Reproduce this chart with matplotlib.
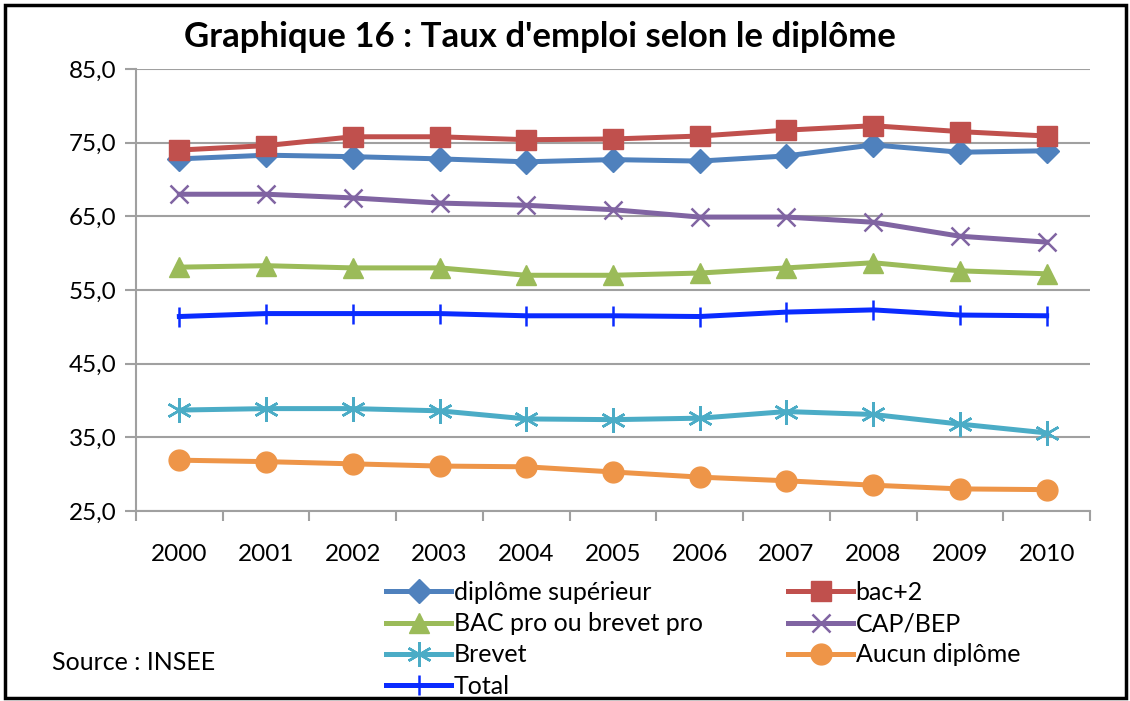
import matplotlib
matplotlib.use('Agg')
import matplotlib.pyplot as plt
from matplotlib.patches import Rectangle

plt.rcParams['font.family'] = ['Lato', 'DejaVu Sans']

years = ['2000', '2001', '2002', '2003', '2004', '2005',
         '2006', '2007', '2008', '2009', '2010']

diplome_sup = [72.8, 73.3, 73.1, 72.8, 72.4, 72.7, 72.5, 73.2, 74.7, 73.7, 73.9]
bac_2 = [74.0, 74.6, 75.8, 75.8, 75.4, 75.5, 75.9, 76.7, 77.3, 76.5, 75.9]
bac_pro = [58.1, 58.3, 58.0, 58.0, 57.0, 57.0, 57.3, 58.0, 58.7, 57.6, 57.2]
cap_bep = [68.0, 68.0, 67.5, 66.8, 66.5, 65.9, 64.9, 64.9, 64.2, 62.3, 61.5]
brevet = [38.7, 38.9, 38.9, 38.6, 37.5, 37.4, 37.6, 38.5, 38.1, 36.8, 35.6]
aucun = [31.9, 31.7, 31.4, 31.1, 31.0, 30.3, 29.6, 29.1, 28.5, 28.0, 27.9]
total = [51.4, 51.8, 51.8, 51.8, 51.5, 51.5, 51.4, 52.0, 52.3, 51.6, 51.5]

y_ticks = [25, 35, 45, 55, 65, 75, 85]

series = [
    ('diplôme supérieur', diplome_sup, '#4F81BD', 'D', 12),
    ('bac+2', bac_2, '#C0504D', 's', 15),
    ('BAC pro ou brevet pro', bac_pro, '#9BBB59', '^', 15),
    ('CAP/BEP', cap_bep, '#8064A2', 'x', 13),
    ('Brevet', brevet, '#4BACC6', (6, 2, 0), 18),
    ('Aucun diplôme', aucun, '#EE9548', 'o', 15),
    ('Total', total, '#0A2BFF', '|', 14),
]

fig = plt.figure(figsize=(11.3, 7.01), dpi=100)
ax = fig.add_axes([136 / 1130, 1 - 511 / 701, (1090 - 136) / 1130, (511 - 69) / 701])

x = list(range(len(years)))
handles = {}
for name, vals, color, marker, ms in series:
    thin = marker in ('x', '|') or isinstance(marker, tuple)
    h, = ax.plot(x, vals, color=color, lw=3.6, marker=marker, ms=ms,
                 mew=1.8 if thin else 1, mec=color)
    handles[name] = h

ax.set_xlim(-0.5, len(years) - 0.5)
ax.set_ylim(25, 85)
ax.set_yticks(y_ticks)
ax.set_yticklabels([f'{v:.1f}'.replace('.', ',') for v in y_ticks], fontsize=17.5)
ax.set_xticks(x)
ax.set_xticklabels(years, fontsize=17.5)
ax.set_xticks([i - 0.5 for i in range(len(years) + 1)], minor=True)
ax.tick_params(axis='x', which='major', length=0, pad=24)
ax.tick_params(axis='x', which='minor', length=7, width=1.5, color='#A0A0A0')
ax.tick_params(axis='y', length=8, width=1.5, color='#A0A0A0', pad=6)
ax.grid(axis='y', color='#A0A0A0', lw=1.5)
ax.set_axisbelow(True)
for side in ('top', 'right'):
    ax.spines[side].set_visible(False)
for side in ('left', 'bottom'):
    ax.spines[side].set_color('#A0A0A0')
    ax.spines[side].set_linewidth(1.5)

fig.text(540 / 1130, 1 - 37 / 701, "Graphique 16 : Taux d'emploi selon le diplôme",
         ha='center', va='center', fontsize=25, fontweight='bold')
fig.text(52 / 1130, 1 - 663 / 701, 'Source : INSEE', ha='left', va='center', fontsize=18)

col1 = ['diplôme supérieur', 'BAC pro ou brevet pro', 'Brevet', 'Total']
col2 = ['bac+2', 'CAP/BEP', 'Aucun diplôme']
for names, x0 in ((col1, 386), (col2, 788)):
    leg = fig.legend([handles[n] for n in names], names, frameon=False,
                     loc='upper left', bbox_to_anchor=(x0 / 1130, 1 - 581 / 701),
                     fontsize=18, handlelength=2.6, handletextpad=0.1,
                     labelspacing=0.33, borderaxespad=0, borderpad=0)

fig.patches.append(Rectangle((5 / 1130, 3 / 701), 1121 / 1130, 693 / 701,
                             transform=fig.transFigure, fill=False,
                             edgecolor='black', lw=2.5))

fig.savefig('out.png', dpi=100)
